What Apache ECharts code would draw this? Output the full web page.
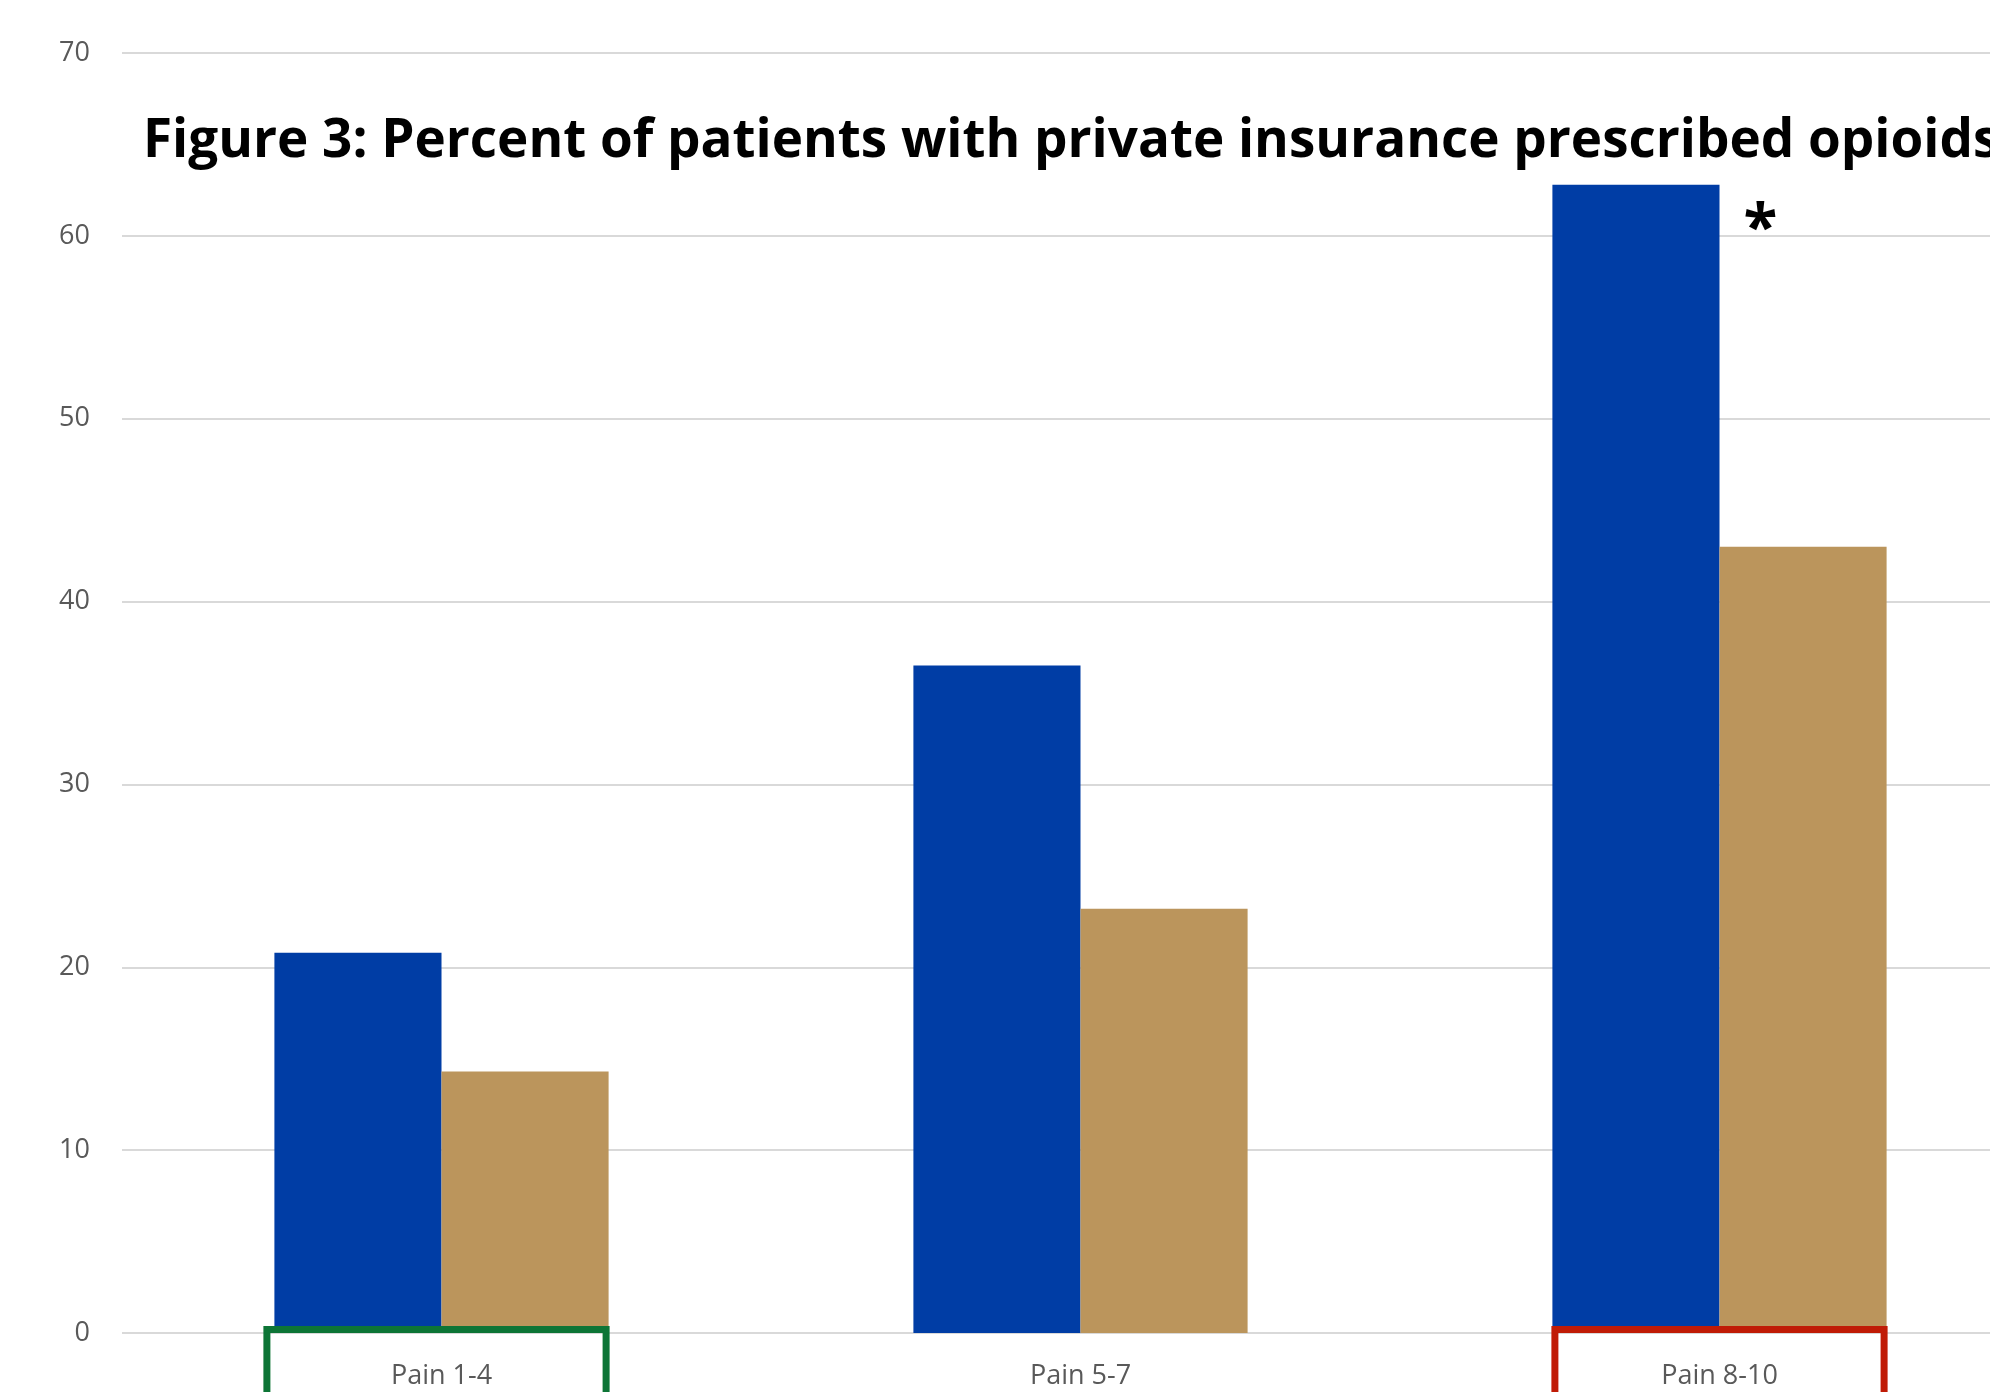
<!DOCTYPE html>
<html><head><meta charset="utf-8">
<script src="https://cdn.jsdelivr.net/npm/echarts@6/dist/echarts.min.js"></script>
<style>html,body{margin:0;padding:0;background:#fff;overflow:hidden}#c{width:1990px;height:1392px}</style>
</head><body><div id="c"></div>
<script>
// ---- data ----
const titleText = 'Figure 3: Percent of patients with private insurance prescribed opioids';
const categories = ['Pain 1-4', 'Pain 5-7', 'Pain 8-10'];
const seriesBlue = [20.8, 36.5, 62.8];
const seriesTan = [14.3, 23.2, 43.0];
const significance = ['', '', '*'];
const yMin = 0, yMax = 70, yStep = 10;
const boxedCategories = ['Pain 1-4', 'Pain 8-10'];

// ---- styles ----
const BLUE = '#003DA5', TAN = '#BB955C';
const boxColors = {'Pain 1-4': '#0D7536', 'Pain 8-10': '#C01B06'};
const boxPadLeft = {'Pain 1-4': 11, 'Pain 8-10': 1};
const LABEL_COLOR = '#595959';

const chart = echarts.init(document.getElementById('c'), null, {renderer: 'canvas'});

// measure title to emulate narrow bold face
const cv = document.createElement('canvas').getContext('2d');
const TITLE_FONT = 'bold 54px "Open Sans"';
cv.font = TITLE_FONT;
const visW = cv.measureText(titleText.slice(0, -1)).width;
const titleScale = (1973 - 143) / visW;

chart.setOption({
  animation: false,
  backgroundColor: '#fff',
  grid: {left: 122, top: 53, width: 1917, height: 1280, containLabel: false, outerBoundsMode: 'none'},
  xAxis: {
    type: 'category',
    data: categories,
    axisLine: {show: false},
    axisTick: {show: false},
    axisLabel: {color: LABEL_COLOR, fontFamily: 'Open Sans', fontSize: 27, margin: 30}
  },
  yAxis: {
    type: 'value',
    min: yMin, max: yMax, interval: yStep,
    axisLine: {show: false},
    axisTick: {show: false},
    axisLabel: {color: LABEL_COLOR, fontFamily: 'Open Sans', fontSize: 27, margin: 32},
    splitLine: {lineStyle: {color: '#D9D9D9', width: 2}}
  },
  series: [
    {
      type: 'bar',
      data: seriesBlue.map((v, i) => ({
        value: v,
        label: significance[i] ? {
          show: true, formatter: significance[i], position: ['100%', 0],
          offset: [41, 47], align: 'center', verticalAlign: 'middle',
          fontFamily: 'Open Sans', fontWeight: 'bold', fontSize: 62, color: '#000'
        } : {show: false}
      })),
      itemStyle: {color: BLUE},
      barGap: '0%',
      barCategoryGap: '47.7%'
    },
    {
      type: 'bar',
      data: seriesTan,
      itemStyle: {color: TAN},
      barGap: '0%',
      barCategoryGap: '47.7%'
    }
  ]
});

// annotations: title and category boxes positioned from the rendered layout
const blueData = chart.getModel().getSeriesByIndex(0).getData();
const tanData = chart.getModel().getSeriesByIndex(1).getData();
const graphics = [{
  type: 'text', x: 143, y: 142, scaleX: titleScale, z: 10,
  style: {text: titleText, font: TITLE_FONT, fill: '#000', verticalAlign: 'middle', align: 'left'}
}];
boxedCategories.forEach(cat => {
  const i = categories.indexOf(cat);
  const lb = blueData.getItemLayout(i);
  const lt = tanData.getItemLayout(i);
  const x0 = lb.x - boxPadLeft[cat], x1 = lt.x + lt.width + 1;
  const yBase = lb.y; // zero line
  graphics.push({
    type: 'rect', z: 10,
    shape: {x: x0 + 3.5, y: yBase - 3.5, width: (x1 - x0) - 7, height: 300},
    style: {fill: 'none', stroke: boxColors[cat], lineWidth: 7}
  });
});
chart.setOption({graphic: graphics});
</script>
</body></html>
